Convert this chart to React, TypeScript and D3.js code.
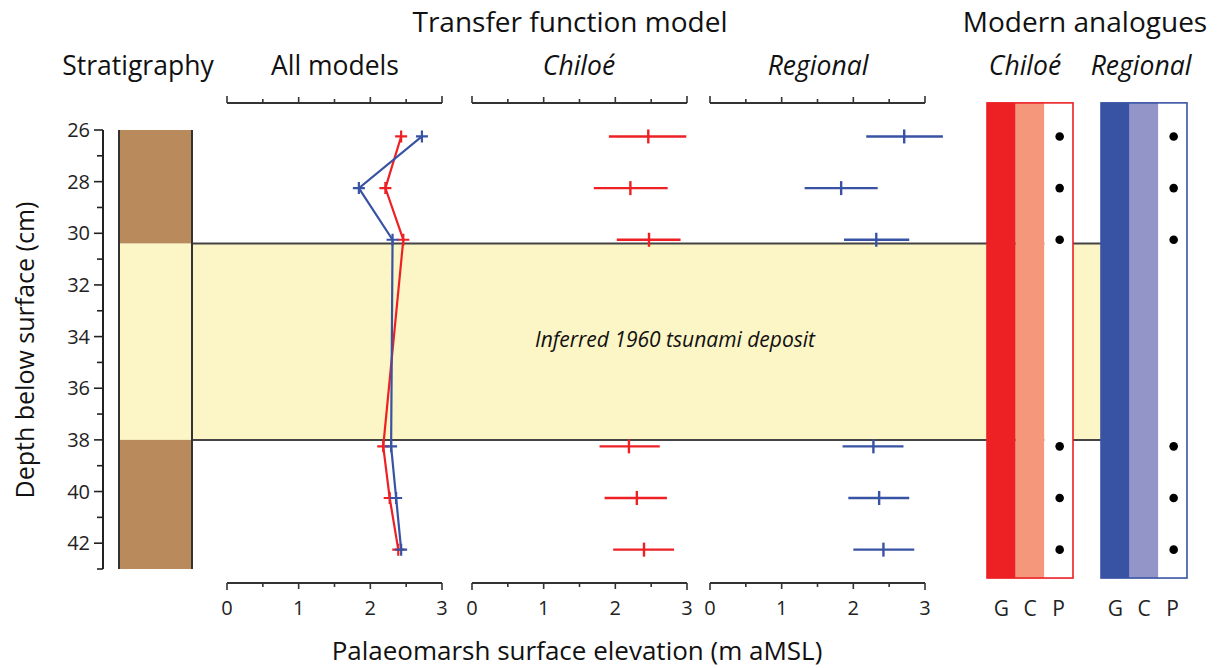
import React, { useEffect, useRef } from 'react';
import * as d3 from 'd3';

// sample depths (cm) and reconstructed elevations (m aMSL)
const depths = [26.25, 28.25, 30.25, 38.25, 40.25, 42.25];
const allChiloe = [2.43, 2.21, 2.46, 2.18, 2.27, 2.39];
const allRegional = [2.72, 1.84, 2.31, 2.29, 2.36, 2.43];
const chiloeMean = [2.46, 2.21, 2.47, 2.19, 2.3, 2.4];
const chiloeLow = [1.91, 1.7, 2.02, 1.78, 1.85, 1.97];
const chiloeHigh = [2.99, 2.73, 2.91, 2.62, 2.72, 2.82];
const regionalMean = [2.71, 1.83, 2.32, 2.28, 2.36, 2.42];
const regionalLow = [2.18, 1.32, 1.87, 1.85, 1.93, 2.0];
const regionalHigh = [3.25, 2.34, 2.78, 2.7, 2.78, 2.85];

// stratigraphy units
const stratTop = [26, 30.4, 38];
const stratBottom = [30.4, 38, 43];
const stratType = ['peat', 'sand', 'peat'];

// modern analogue classes (Good / Close / Poor) for each sample
const analogueCols = ['G', 'C', 'P'];
const chiloeAnalogue = ['P', 'P', 'P', 'P', 'P', 'P'];
const regionalAnalogue = ['P', 'P', 'P', 'P', 'P', 'P'];

const xTicks = [0, 1, 2, 3];
const yTicksMajor = [26, 28, 30, 32, 34, 36, 38, 40, 42];

const RED = '#ed2024';
const BLUE = '#3953a4';
const FONT = '"Open Sans", "Noto Sans", sans-serif';

export default function App() {
  const svgRef = useRef<SVGSVGElement>(null);

  useEffect(() => {
    if (!svgRef.current) return;
    const svg = d3.select(svgRef.current);
    svg.selectAll('*').remove();

    const y = d3.scaleLinear().domain([26, 43]).range([130, 569]);
    const topY = 103;
    const botY = 583;

    const panels = [
      { x: d3.scaleLinear().domain([0, 3]).range([227, 442]) },
      { x: d3.scaleLinear().domain([0, 3]).range([472, 687]) },
      { x: d3.scaleLinear().domain([0, 3]).range([710, 925]) },
    ];

    const stratX0 = 119;
    const stratX1 = 192;
    const bandX1 = 1101;
    const sandTop = stratTop[1];
    const sandBot = stratBottom[1];

    // tsunami band
    svg.append('rect')
      .attr('x', stratX1).attr('y', y(sandTop))
      .attr('width', bandX1 - stratX1).attr('height', y(sandBot) - y(sandTop))
      .attr('fill', '#fcf5c5');
    [sandTop, sandBot].forEach(d => {
      svg.append('line')
        .attr('x1', stratX1).attr('x2', bandX1)
        .attr('y1', y(d)).attr('y2', y(d))
        .attr('stroke', '#444').attr('stroke-width', 2);
    });

    svg.append('text')
      .attr('x', 675).attr('y', 340)
      .attr('dy', '0.35em')
      .attr('text-anchor', 'middle')
      .style('font-family', FONT).style('font-size', '21px').style('font-style', 'italic')
      .attr('fill', '#111')
      .text('Inferred 1960 tsunami deposit');

    // stratigraphy column
    stratTop.forEach((t, i) => {
      svg.append('rect')
        .attr('x', stratX0).attr('y', y(t))
        .attr('width', stratX1 - stratX0).attr('height', y(stratBottom[i]) - y(t))
        .attr('fill', stratType[i] === 'peat' ? '#b98b5c' : '#fcf5c5');
    });
    [stratX0, stratX1].forEach(x => {
      svg.append('line')
        .attr('x1', x).attr('x2', x).attr('y1', y(26)).attr('y2', y(43))
        .attr('stroke', '#333').attr('stroke-width', 2);
    });

    // depth axis
    const yAxisX = 103;
    svg.append('line')
      .attr('x1', yAxisX).attr('x2', yAxisX).attr('y1', y(26)).attr('y2', y(43))
      .attr('stroke', '#222').attr('stroke-width', 2);
    d3.range(26, 44).forEach(d => {
      const major = d % 2 === 0;
      svg.append('line')
        .attr('x1', yAxisX - (major ? 9 : 6)).attr('x2', yAxisX)
        .attr('y1', y(d)).attr('y2', y(d))
        .attr('stroke', '#222').attr('stroke-width', 1.6);
    });
    yTicksMajor.forEach(d => {
      svg.append('text')
        .attr('x', 90).attr('y', y(d)).attr('dy', '0.36em')
        .attr('text-anchor', 'end')
        .style('font-family', FONT).style('font-size', '20px').attr('fill', '#222')
        .text(d);
    });
    svg.append('text')
      .attr('transform', `translate(34, 350) rotate(-90)`)
      .attr('text-anchor', 'middle')
      .style('font-family', FONT).style('font-size', '25px').attr('fill', '#111')
      .text('Depth below surface (cm)');

    // elevation axes (top and bottom)
    panels.forEach(p => {
      const ticks = d3.range(0, 3.01, 0.5);
      [topY, botY].forEach((ay, k) => {
        const dir = k === 0 ? -1 : 1;
        svg.append('line')
          .attr('x1', p.x(0)).attr('x2', p.x(3)).attr('y1', ay).attr('y2', ay)
          .attr('stroke', '#333').attr('stroke-width', 2);
        ticks.forEach(t => {
          const major = Number.isInteger(t) && (t === 0 || t === 3);
          const len = major ? 7 : Number.isInteger(t) ? 6 : 4;
          svg.append('line')
            .attr('x1', p.x(t)).attr('x2', p.x(t))
            .attr('y1', ay).attr('y2', ay + dir * len)
            .attr('stroke', '#333').attr('stroke-width', 1.6);
        });
      });
      xTicks.forEach(t => {
        svg.append('text')
          .attr('x', p.x(t)).attr('y', 615)
          .attr('text-anchor', 'middle')
          .style('font-family', FONT).style('font-size', '20px').attr('fill', '#222')
          .text(t);
      });
    });

    // All models lines with cross markers
    const allX = panels[0].x;
    const series = [
      { vals: allChiloe, color: RED },
      { vals: allRegional, color: BLUE },
    ];
    series.forEach(s => {
      const pts = depths.map((d, i) => [allX(s.vals[i]), y(d)] as [number, number]);
      svg.append('path')
        .datum(pts)
        .attr('d', d3.line())
        .attr('fill', 'none').attr('stroke', s.color).attr('stroke-width', 2.2);
      pts.forEach(([px, py]) => {
        svg.append('path')
          .attr('d', `M${px - 6},${py}H${px + 6}M${px},${py - 6}V${py + 6}`)
          .attr('stroke', s.color).attr('stroke-width', 2.2);
      });
    });

    // error bars for the two model panels
    const bars = [
      { p: panels[1], mean: chiloeMean, lo: chiloeLow, hi: chiloeHigh, color: RED },
      { p: panels[2], mean: regionalMean, lo: regionalLow, hi: regionalHigh, color: BLUE },
    ];
    bars.forEach(b => {
      depths.forEach((d, i) => {
        const cy = y(d);
        svg.append('line')
          .attr('x1', b.p.x(b.lo[i])).attr('x2', b.p.x(b.hi[i]))
          .attr('y1', cy).attr('y2', cy)
          .attr('stroke', b.color).attr('stroke-width', 2.4);
        svg.append('line')
          .attr('x1', b.p.x(b.mean[i])).attr('x2', b.p.x(b.mean[i]))
          .attr('y1', cy - 7).attr('y2', cy + 7)
          .attr('stroke', b.color).attr('stroke-width', 2.4);
      });
    });

    // modern analogue boxes
    const boxTop = y(24.95);
    const boxBot = y(43.35);
    const boxes = [
      { x0: 987, cls: chiloeAnalogue, fills: ['#ed2024', '#f4977a', '#ffffff'], edge: RED },
      { x0: 1101, cls: regionalAnalogue, fills: ['#3953a4', '#9395c8', '#ffffff'], edge: BLUE },
    ];
    boxes.forEach(bx => {
      const cx = d3.scaleBand().domain(analogueCols).range([bx.x0, bx.x0 + 86]);
      analogueCols.forEach((c, j) => {
        svg.append('rect')
          .attr('x', cx(c)!).attr('y', boxTop)
          .attr('width', cx.bandwidth()).attr('height', boxBot - boxTop)
          .attr('fill', bx.fills[j]);
        svg.append('text')
          .attr('x', cx(c)! + cx.bandwidth() / 2).attr('y', 616)
          .attr('text-anchor', 'middle')
          .style('font-family', FONT).style('font-size', '21px').attr('fill', '#222')
          .text(c);
      });
      svg.append('rect')
        .attr('x', bx.x0).attr('y', boxTop)
        .attr('width', 86).attr('height', boxBot - boxTop)
        .attr('fill', 'none').attr('stroke', bx.edge).attr('stroke-width', 1.6);
      depths.forEach((d, i) => {
        const c = bx.cls[i];
        svg.append('circle')
          .attr('cx', cx(c)! + cx.bandwidth() / 2 + 1).attr('cy', y(d))
          .attr('r', 4.3).attr('fill', '#000');
      });
    });

    // headings
    const heading = (txt: string, x: number, yy: number, italic = false, size = 28) => {
      svg.append('text')
        .attr('x', x).attr('y', yy).attr('text-anchor', 'middle')
        .style('font-family', FONT).style('font-size', `${size}px`)
        .style('font-style', italic ? 'italic' : 'normal').attr('fill', '#111')
        .text(txt);
    };
    heading('Transfer function model', 570, 32);
    heading('Modern analogues', 1085, 32);
    heading('Stratigraphy', 138, 75, false, 26.5);
    heading('All models', 335, 75, false, 26.5);
    heading('Chiloé', 579, 75, true, 26.5);
    heading('Regional', 818, 75, true, 26.5);
    heading('Chiloé', 1025, 75, true, 26.5);
    heading('Regional', 1141, 75, true, 26.5);
    heading('Palaeomarsh surface elevation (m aMSL)', 577, 660, false, 26);
  }, []);

  return (
    <svg
      ref={svgRef}
      width={1230}
      height={668}
      style={{ position: 'absolute', left: 0, top: 0, background: '#fff' }}
    />
  );
}
